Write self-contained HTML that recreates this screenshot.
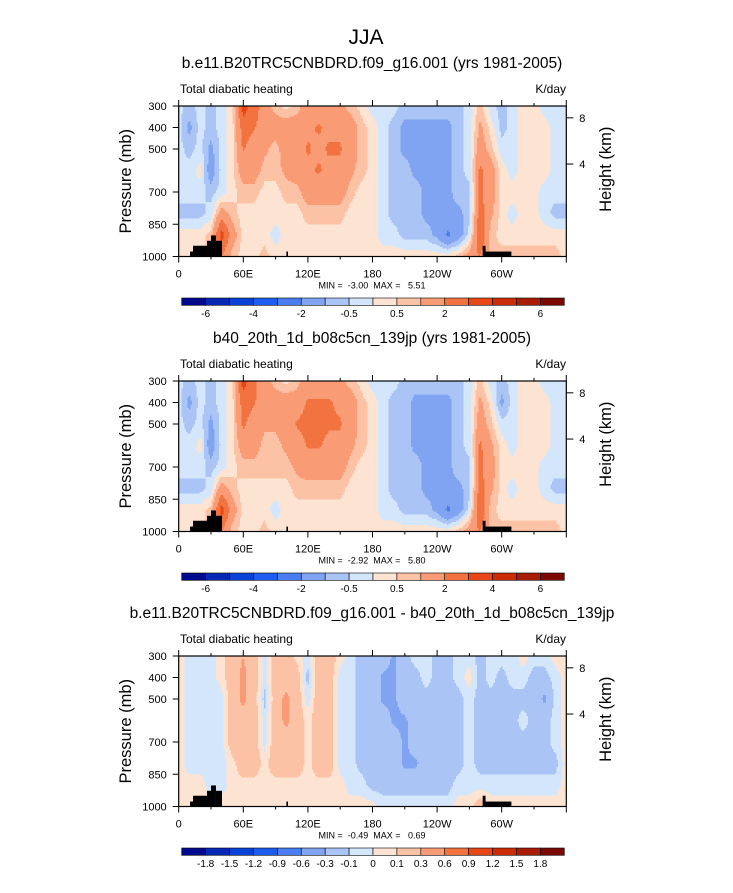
<!DOCTYPE html>
<html><head><meta charset="utf-8"><style>
body{margin:0;background:#fff;width:733px;height:888px;overflow:hidden}
svg{font-family:"Liberation Sans",sans-serif}
</style></head><body>
<svg id="chart" width="733" height="888" viewBox="0 0 733 888">
<text x="366" y="44" font-size="21" text-anchor="middle">JJA</text>
</svg>
<script>
const lons=[0,10,20,30,40,50,60,70,80,90,100,110,120,130,140,150,160,170,180,190,200,210,220,230,240,250,260,270,280,290,300,310,320,330,340,350,360];
const levels=[300,400,500,600,700,800,900,1000];
const field1=[
[-0.3,-0.3,-0.3,-0.3,-0.3,-0.7,0.3,0.3],[-0.7,-1.2,-0.7,-0.3,-0.3,-0.7,0.3,0.3],[-0.3,-0.3,-0.3,0.2,-0.3,-0.7,0.3,0.3],
[-0.7,-0.7,-1.2,-1.5,-0.7,-0.3,0.7,0.7],[-0.3,-0.3,-0.3,-0.3,-0.3,1.5,3.5,2],[0.3,0.3,0.3,0.3,0.3,0.7,1.5,0.7],
[3.5,2.5,2.1,1.5,0.7,0.3,0.3,0.3],[2.5,2.1,1.5,1.5,0.7,0.3,0.3,0.3],[1.5,1.5,1.2,0.7,0.3,0.3,0.3,0.7],
[0.7,1.5,0.7,0.7,0.3,0.3,-0.3,0.3],[0.3,1.5,1.5,1.2,0.7,0.3,0.3,0.3],[0.7,1.5,1.5,1.5,0.7,0.3,0.3,0.3],
[1.5,1.8,2.1,1.8,1.5,0.7,0.3,0.3],[1.5,2.1,1.8,2.1,1.5,0.7,0.3,0.3],[1.5,1.8,2.1,1.8,1.5,0.7,0.3,0.3],
[1.2,1.8,2.1,1.8,1.5,0.7,0.3,0.3],[0.7,1.5,1.5,1.2,0.7,0.3,0.3,0.3],[0.3,0.7,0.7,0.7,0.3,0.3,0.3,0.3],
[-0.3,0.3,0.3,0.3,0.3,0.3,0.3,0.3],[-0.3,-0.3,-0.3,-0.3,-0.3,-0.3,-0.3,0.3],[-0.3,-0.7,-0.7,-0.7,-0.7,-0.7,-0.3,0.3],
[-0.7,-1.2,-1.2,-0.7,-0.7,-0.7,-0.7,0.3],[-0.7,-1.2,-1.2,-1.2,-0.7,-0.7,-0.7,0.3],[-0.7,-1.2,-1.2,-1.2,-1.2,-1.2,-0.7,0.3],
[-0.7,-1.2,-1.2,-1.2,-1.2,-1.2,-1.2,0.3],[-0.7,-1.2,-1.2,-1.2,-1.2,-1.2,-2.2,0.3],[-0.7,-0.7,-0.7,-0.7,-0.7,-1.2,-1.5,0.7],
[-0.3,-0.3,-0.3,-0.3,-0.7,-0.7,-0.3,1.5],[0.7,1.2,1.5,2.2,2.2,2.5,3.2,2],[-0.3,0.3,0.7,1.5,1.5,1.2,0.7,0.7],
[-0.7,-0.7,-0.3,0.3,0.3,0.3,0.3,0.7],[-0.3,-0.3,-0.3,-0.3,0.3,-0.3,0.3,0.7],[0.3,0.3,0.3,0.3,0.3,0.3,0.3,0.7],
[0.3,0.3,0.3,0.3,0.3,0.3,0.3,0.7],[-0.3,0.3,0.3,0.3,-0.3,-0.3,0.3,0.7],[-0.3,-0.3,-0.3,-0.3,-0.3,-0.7,0.3,0.7],
[-0.3,-0.3,-0.3,-0.3,-0.3,-0.7,0.3,0.3]];
const field2=[
[-0.3,-0.3,-0.3,-0.3,-0.3,-0.7,0.3,0.3],[-0.7,-1.2,-0.7,-0.3,-0.3,-0.7,0.3,0.3],[-0.3,-0.3,-0.3,0.2,-0.3,-0.7,0.3,0.3],
[-0.7,-0.7,-1.2,-1.5,-0.7,-0.3,0.7,0.7],[-0.3,-0.3,-0.3,-0.3,-0.3,1.5,3.5,2],[0.3,0.3,0.3,0.3,0.3,0.7,1.5,0.7],
[3.5,2.5,2.2,1.5,0.7,0.3,0.3,0.3],[2.2,2.1,1.5,1.5,0.7,0.3,0.3,0.3],[1.5,1.5,1.2,0.7,0.7,0.3,0.3,0.7],
[0.7,1.5,1.2,0.7,0.7,0.3,-0.3,0.3],[0.3,1.5,1.5,1.2,0.7,0.3,0.3,0.3],[0.7,1.5,2.1,1.5,1.2,0.7,0.3,0.3],
[1.5,2.1,2.3,2.1,1.5,0.7,0.3,0.3],[1.5,2.1,2.2,2.1,1.5,0.7,0.3,0.3],[1.5,2.1,2.1,1.8,1.5,0.7,0.3,0.3],
[1.2,1.8,2.1,1.8,1.5,0.7,0.3,0.3],[0.7,1.5,1.5,1.2,0.7,0.3,0.3,0.3],[0.3,0.7,0.7,0.7,0.3,0.3,0.3,0.3],
[-0.3,0.3,0.3,0.3,0.3,0.3,0.3,0.3],[-0.3,-0.3,-0.3,-0.3,-0.3,-0.3,-0.3,0.3],[-0.3,-0.7,-0.7,-0.7,-0.7,-0.7,-0.3,0.3],
[-0.7,-0.7,-0.7,-0.7,-0.7,-0.7,-0.7,0.3],[-0.7,-1.2,-1.2,-1.2,-0.7,-0.7,-0.7,0.3],[-0.7,-1.2,-1.2,-1.2,-1.2,-1.2,-0.7,0.3],
[-0.7,-1.2,-1.2,-1.2,-1.2,-1.2,-1.2,0.3],[-0.7,-1.2,-1.2,-1.2,-1.2,-1.2,-2.2,0.3],[-0.7,-0.7,-0.7,-0.7,-0.7,-1.2,-1.5,0.7],
[-0.3,-0.3,-0.3,-0.3,-0.7,-0.7,-0.3,1.5],[0.7,1.2,1.5,2.2,2.2,2.5,3.2,2],[-0.3,0.3,0.7,1.2,1.5,1.2,0.7,0.7],
[-0.7,-1.2,-0.3,0.3,0.3,0.3,0.3,0.7],[-0.3,-0.3,-0.3,-0.3,0.3,-0.3,0.3,0.7],[0.3,0.3,0.3,0.3,0.3,0.3,0.3,0.7],
[0.3,0.3,0.3,0.3,0.3,0.3,0.3,0.7],[-0.3,0.3,0.3,0.3,-0.3,-0.3,0.3,0.7],[-0.3,-0.3,-0.3,-0.3,-0.3,-0.7,0.3,0.7],
[-0.3,-0.3,-0.3,-0.3,-0.3,-0.7,0.3,0.3]];
const field3=[
[0.05,0.05,0.05,0.05,0.05,0.05,0.05,0.05],[-0.05,-0.05,-0.05,-0.05,-0.05,-0.05,0.05,0.05],[-0.05,-0.05,-0.05,-0.05,-0.05,-0.05,0.05,0.05],
[-0.05,-0.05,-0.05,-0.05,-0.05,-0.05,-0.05,0.05],[0.05,0.05,-0.05,-0.05,-0.05,-0.05,-0.05,0.05],[0.2,0.2,0.2,0.2,0.2,0.05,0.05,0.05],
[0.3,0.35,0.35,0.2,0.2,0.2,0.05,0.05],[0.2,0.2,0.2,0.2,0.2,0.2,0.05,0.05],[-0.05,-0.05,-0.15,-0.05,-0.05,0.05,0.05,0.05],
[0.2,0.2,0.2,0.2,0.2,0.2,0.05,0.05],[0.2,0.2,0.35,0.35,0.2,0.2,0.05,0.05],[0.05,0.2,0.2,0.2,0.2,0.2,0.05,0.05],
[-0.05,-0.15,-0.05,0.05,0.05,0.05,0.05,0.05],[0.2,0.2,0.2,0.2,0.2,0.2,0.05,0.05],[0.2,0.2,0.2,0.2,0.2,0.2,0.05,0.05],
[0.05,-0.05,-0.05,-0.05,-0.05,-0.05,0.05,0.05],[-0.05,-0.05,-0.05,-0.05,-0.05,-0.05,-0.05,0.05],[-0.15,-0.15,-0.15,-0.15,-0.15,-0.15,-0.05,0.05],
[-0.15,-0.15,-0.15,-0.15,-0.15,-0.15,-0.15,0.05],[-0.15,-0.35,-0.35,-0.15,-0.15,-0.15,-0.15,-0.05],[-0.35,-0.35,-0.35,-0.35,-0.15,-0.15,-0.15,-0.05],
[-0.15,-0.15,-0.15,-0.35,-0.35,-0.35,-0.15,-0.05],[-0.05,-0.15,-0.15,-0.15,-0.15,-0.35,-0.15,-0.05],[-0.05,-0.05,-0.15,-0.15,-0.15,-0.15,-0.15,-0.05],
[-0.15,-0.15,-0.15,-0.15,-0.15,-0.15,-0.15,-0.05],[-0.15,-0.15,-0.15,-0.15,-0.15,-0.15,-0.15,-0.05],[-0.05,-0.05,-0.15,-0.15,-0.15,-0.15,-0.05,0.05],
[-0.05,0.05,-0.05,-0.05,-0.05,-0.05,-0.05,0.05],[-0.15,-0.15,-0.15,-0.15,-0.15,-0.15,-0.05,0.2],[-0.05,-0.05,-0.15,-0.15,-0.15,-0.15,-0.05,0.05],
[-0.05,-0.15,-0.15,-0.15,-0.15,-0.15,-0.05,0.05],[-0.05,-0.05,-0.15,-0.15,-0.15,-0.15,-0.05,0.05],[0.05,-0.05,-0.15,-0.05,-0.15,-0.15,-0.05,0.05],
[-0.05,-0.15,-0.15,-0.15,-0.15,-0.15,-0.05,0.05],[-0.05,-0.15,-0.35,-0.15,-0.15,-0.15,-0.05,0.05],[0.05,-0.05,-0.05,-0.05,-0.05,-0.15,-0.05,0.05],
[0.05,0.05,0.05,0.05,0.05,0.05,0.05,0.05]];
const levelsMain=[-6,-5,-4,-3,-2,-1,-0.5,0,0.5,1,2,3,4,5,6];
const labelsMain=["-6","","-4","","-2","","-0.5","","0.5","","2","","4","","6"];
const levelsDiff=[-1.8,-1.5,-1.2,-0.9,-0.6,-0.3,-0.1,0,0.1,0.3,0.6,0.9,1.2,1.5,1.8];
const labelsDiff=["-1.8","-1.5","-1.2","-0.9","-0.6","-0.3","-0.1","0","0.1","0.3","0.6","0.9","1.2","1.5","1.8"];
const palette=["#000a8c","#0628b4","#0a42d8","#1e5cf0","#4a7ef0","#80a4f2","#aac4f5","#d4e6fb","#fde4d2","#fcc2a6","#f99c76","#f27240","#e84616","#cc2c04","#a81c04","#7c0804"];
const landLon0=[10.5,13.3,26.3,30,34.6,100,282.3,285];
const landLon1=[13.3,26.3,30,34.6,40.2,101.5,285,309];
const landTop=[977,950,927,902,927,977,950,977];
const titles=["b.e11.B20TRC5CNBDRD.f09_g16.001 (yrs 1981-2005)","b40_20th_1d_b08c5cn_139jp (yrs 1981-2005)","b.e11.B20TRC5CNBDRD.f09_g16.001 - b40_20th_1d_b08c5cn_139jp"];
const minVals=["-3.00","-2.92","-0.49"];
const maxVals=["5.51","5.80","0.69"];
const pTicks=[300,400,500,700,850,1000];
const xTickLons=[0,60,120,180,240,300];
const xTickLabels=["0","60E","120E","180","120W","60W"];
const hTicks=[8,4];
const hTickP=[355,570];

const NS="http://www.w3.org/2000/svg";
const svg=document.getElementById('chart');
function mk(tag,attrs,parent){const e=document.createElementNS(NS,tag);for(const k in attrs)e.setAttribute(k,attrs[k]);(parent||svg).appendChild(e);return e;}
const X0=178.7,X1=566.3,PH=150.5;
function xs(lon){return X0+lon/360*(X1-X0);}
function ys(p,top){return top+(p-300)/700*PH;}
function sample(f,lon,p){
  let i=Math.max(0,Math.min(Math.floor(lon/10),lons.length-2));let tx=(lon-lons[i])/10;
  let j=Math.max(0,Math.min(Math.floor((p-300)/100),levels.length-2));let ty=(p-levels[j])/100;
  const a=f[i][j]*(1-tx)+f[i+1][j]*tx, b=f[i][j+1]*(1-tx)+f[i+1][j+1]*tx;
  return a*(1-ty)+b*ty;
}
function bin(v,lv){let k=0;while(k<lv.length&&v>=lv[k])k++;return k;}
function panel(idx,f,lv,labels){
  const top=106+idx*275;
  const g=mk('g',{});
  
  
  const t=mk('text',{x:372,y:top-38,'font-size':15.5,'text-anchor':'middle'},g);t.textContent=titles[idx];
  
  const l=mk('text',{x:180,y:top-13,'font-size':12},g);l.textContent="Total diabatic heating";
  
  const u=mk('text',{x:566,y:top-13,'font-size':12,'text-anchor':'end'},g);u.textContent="K/day";
  
  const cg=mk('g',{'shape-rendering':'crispEdges'},g);
  
  const dx=1.5,dy=1.5;
  const nx=Math.ceil((X1-X0)/dx), ny=Math.ceil(PH/dy);
  for(let jy=0;jy<ny;jy++){
    const y=top+jy*dy;
    const h=Math.min(dy,top+PH-y);
    const p=300+(y+h/2-top)/PH*700;
    let runStart=X0,runBin=null;
    for(let ix=0;ix<=nx;ix++){
      const x=Math.min(X0+ix*dx,X1);
      let b=-1;
      if(ix<nx){const lon=Math.min(360,(x+dx/2-X0)/(X1-X0)*360);b=bin(sample(f,lon,p),lv);}
      if(b!==runBin){
        if(runBin!==null&&runBin>=0){
          const r=mk('rect',{x:runStart.toFixed(2),y:y.toFixed(2),width:(x-runStart+0.3).toFixed(2),height:(h+0.3).toFixed(2),fill:palette[runBin]},cg);
          
          
        }
        runStart=x;runBin=b;
      }
    }
  }
  for(let k=0;k<landTop.length;k++){
    const r=mk('rect',{x:xs(landLon0[k]),y:ys(landTop[k],top),width:xs(landLon1[k])-xs(landLon0[k]),height:ys(1000,top)-ys(landTop[k],top),fill:'#000'},g);
    
    
  }
  const fr=mk('rect',{x:X0,y:top,width:X1-X0,height:PH,fill:'none',stroke:'#000','stroke-width':1.2},g);
  
  pTicks.forEach(p=>{const y=ys(p,top);mk('line',{x1:X0-6,x2:X0,y1:y,y2:y,stroke:'#000'},g);
    const tl=mk('text',{x:X0-12,y:y+4,'font-size':11,'text-anchor':'end'},g);tl.textContent=p;
    
    });
  for(let lon=0;lon<=360;lon+=30){const x=xs(lon);const len=lon%60===0?6:3;
    mk('line',{x1:x,x2:x,y1:top,y2:top-len,stroke:'#000'},g);mk('line',{x1:x,x2:x,y1:top+PH,y2:top+PH+len,stroke:'#000'},g);}
  xTickLons.forEach((lon,k)=>{const tl=mk('text',{x:xs(lon),y:top+PH+21,'font-size':11,'text-anchor':'middle'},g);tl.textContent=xTickLabels[k];
    
    });
  hTicks.forEach((hv,k)=>{const y=ys(hTickP[k],top);mk('line',{x1:X1,x2:X1+7,y1:y,y2:y,stroke:'#000'},g);
    const tl=mk('text',{x:X1+13,y:y+4,'font-size':11},g);tl.textContent=hv;
    
    });
  const ya=mk('text',{x:0,y:0,'font-size':16.5,'text-anchor':'middle',transform:`translate(131,${top+PH/2}) rotate(-90)`},g);ya.textContent="Pressure (mb)";
  
  const yb=mk('text',{x:0,y:0,'font-size':16.5,'text-anchor':'middle',transform:`translate(611,${top+PH/2-12}) rotate(-90)`},g);yb.textContent="Height (km)";
  
  const mm=mk('text',{x:372,y:top+PH+32,'font-size':9,'text-anchor':'middle','xml:space':'preserve',style:'white-space:pre'},g);mm.textContent="MIN =  "+minVals[idx]+"  MAX =   "+maxVals[idx];
  
  const cb=mk('g',{},g);
  const cy=top+192,cx0=181.7,cw=(564.3-181.7)/16;
  for(let k=0;k<16;k++){const r=mk('rect',{x:cx0+k*cw,y:cy,width:cw,height:7.3,fill:palette[k],stroke:'#000','stroke-width':0.6},cb);
    
    }
  labels.forEach((s,k)=>{if(!s)return;const tl=mk('text',{x:cx0+(k+1)*cw,y:cy+19,'font-size':10,'text-anchor':'middle'},cb);tl.textContent=s;
    
    });
}
panel(0,field1,levelsMain,labelsMain);
panel(1,field2,levelsMain,labelsMain);
panel(2,field3,levelsDiff,labelsDiff);
</script>
</body></html>
